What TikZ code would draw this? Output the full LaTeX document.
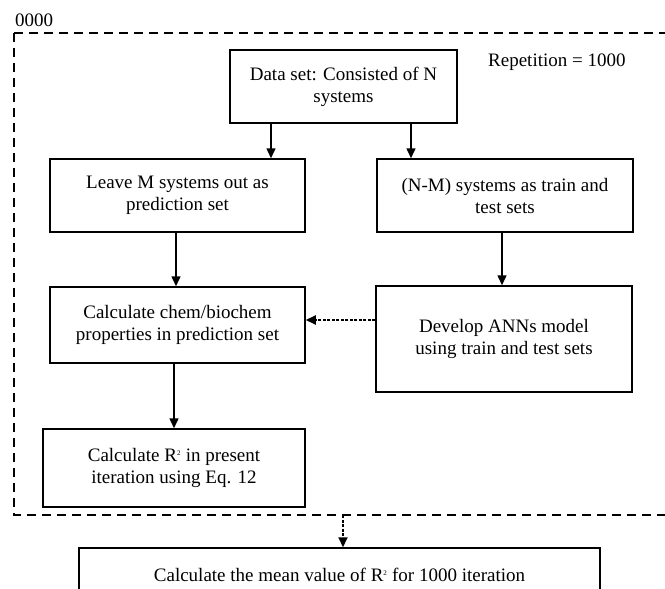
\documentclass[tikz,border=0pt]{standalone}
\usepackage{fontspec}
\setmainfont{Liberation Serif}
\usetikzlibrary{arrows.meta,calc}
\begin{document}
\begin{tikzpicture}[x=1pt,y=-1pt,
  box/.style={draw,line width=1.5pt,align=center,inner sep=0pt,font=\fontsize{19}{22}\selectfont},
  arr/.style={line width=1.5pt,-{Triangle[length=10pt,width=9pt]}},
  dotarr/.style={line width=2pt,dash pattern=on 3pt off 1.5pt,-{Triangle[length=10pt,width=9pt]}},
  frame/.style={line width=2pt,dash pattern=on 9pt off 6pt},
  lbl/.style={font=\fontsize{19}{22}\selectfont,inner sep=0pt}]
\useasboundingbox (0,0) rectangle (665,589);
\clip (0,0) rectangle (665,589);
\fill[white] (0,0) rectangle (665,589);
\draw[frame] (14,33) -- (14,515) -- (700,515);
\draw[frame] (14,33) -- (700,33);
\node[lbl,anchor=west] (num) at (15,20) {0000};
\node[lbl,anchor=west] (rep) at (488,62) {Repetition = 1000};
\node[box,minimum width=227pt,minimum height=73pt] (data) at (343.5,86.5) {Data set: Consisted of N\\systems};
\node[box,minimum width=255pt,minimum height=73pt] (leave) at (177.5,195.5) {Leave M systems out as\\prediction set};
\node[box,minimum width=256pt,minimum height=73pt] (nm) at (505,195.5) {(N-M) systems as train and\\test sets};
\node[box,minimum width=255pt,minimum height=76pt] (calc) at (177.5,325) {Calculate chem/biochem\\properties in prediction set};
\node[box,minimum width=256pt,minimum height=106pt] (dev) at (504,339) {Develop ANNs model\\using train and test sets};
\node[box,minimum width=262pt,minimum height=78pt] (r2) at (174,468) {Calculate R\textsuperscript{\scriptsize 2} in present\\iteration using Eq. 12};
\node[box,minimum width=521pt,minimum height=54pt] (mean) at (339.5,575) {Calculate the mean value of R\textsuperscript{\scriptsize 2} for 1000 iteration};
\coordinate (fb) at (343,515);
\draw[arr] ([xshift=-72.5pt]data.south) -- ([xshift=-72.5pt]data.south |- leave.north);
\draw[arr] ([xshift=67.5pt]data.south) -- ([xshift=67.5pt]data.south |- nm.north);
\draw[arr] ([xshift=-1.5pt]leave.south) -- ([xshift=-1.5pt]leave.south |- calc.north);
\draw[arr] ([xshift=-3pt]nm.south) -- ([xshift=-3pt]nm.south |- dev.north);
\draw[arr] (calc.south -| r2.north) -- (r2.north);
\draw[dotarr] (dev.west |- 0,320) -- (calc.east |- 0,320);
\draw[dotarr] (fb) -- (fb |- mean.north);
\end{tikzpicture}
\end{document}
